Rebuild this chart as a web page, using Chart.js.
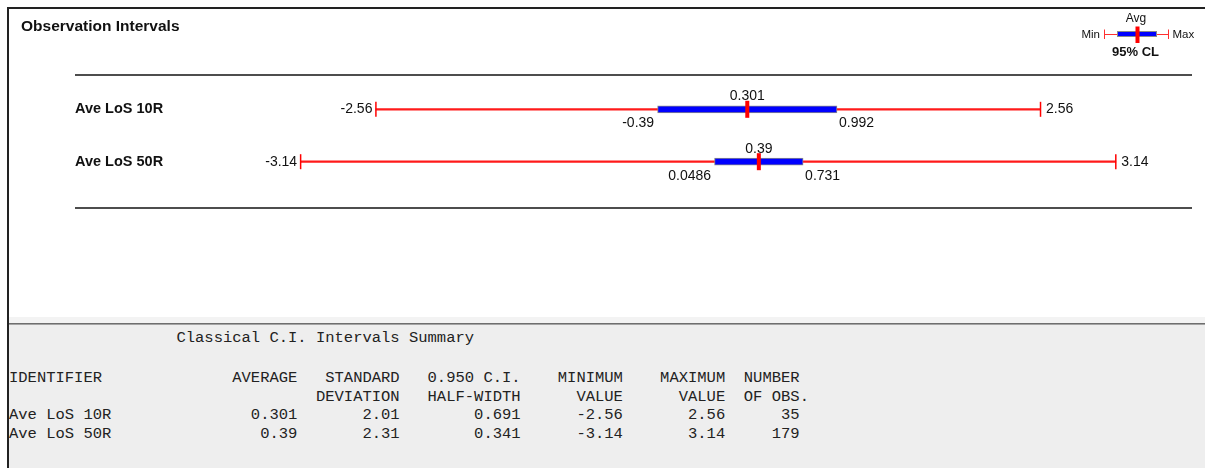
<!DOCTYPE html>
<html>
<head>
<meta charset="utf-8">
<script src="https://cdn.jsdelivr.net/npm/chart.js"></script>
<style>
  body { margin: 0; background: #fff; width: 1205px; height: 468px; overflow: hidden; position: relative; }
  #plot { position: absolute; left: 0; top: 0; width: 1205px; height: 317px; }
  .frame-top { position: absolute; left: 7px; top: 7px; width: 1198px; height: 2px; background: #222; z-index: 3; }
  .frame-left { position: absolute; left: 7px; top: 7px; width: 2px; height: 461px; background: #222; z-index: 3; }
  #panel { position: absolute; left: 9px; top: 317px; width: 1196px; height: 151px; background: #eeeeee; }
  #panel .band { position: absolute; left: 0; top: 0; width: 100%; height: 6px; background: #f3f3f3; }
  #panel .dark { position: absolute; left: 0; top: 6px; width: 100%; height: 1px; background: #6e6e6e; }
  #panel .mid { position: absolute; left: 0; top: 7px; width: 100%; height: 1px; background: #a4a4a4; }
  .mono { position: absolute; left: 9px; margin: 0; font-family: "Liberation Mono", "Courier New", monospace;
          font-size: 15.5px; line-height: 18.6px; color: #222; white-space: pre; }
  #summaryTitle { top: 329px; }
  #summaryTable { top: 369px; }
</style>
</head>
<body>
<div id="plot"><canvas id="chart"></canvas></div>
<div class="frame-top"></div>
<div class="frame-left"></div>
<div id="panel"><div class="band"></div><div class="dark"></div><div class="mid"></div></div>
<pre class="mono" id="summaryTitle"></pre>
<pre class="mono" id="summaryTable"></pre>
<script>
const categories = ["Ave LoS 10R", "Ave LoS 50R"];
const average = [0.301, 0.39];
const stdDev = [2.01, 2.31];
const halfWidth = [0.691, 0.341];
const ciLow = [-0.39, 0.0486];
const ciHigh = [0.992, 0.731];
const minValue = [-2.56, -3.14];
const maxValue = [2.56, 3.14];
const numObs = [35, 179];

const rowY = categories.map((c, i) => i + 1);
const red = "#ff0000";
const sans = '"Liberation Sans", Arial, sans-serif';

// summary table in the grey panel
document.getElementById("summaryTitle").textContent =
  " ".repeat(18) + "Classical C.I. Intervals Summary";

function line(a, b, c, d, e, f, g) {
  return a.padEnd(21) + b.padStart(10) + c.padStart(11) + d.padStart(13) +
    e.padStart(11) + f.padStart(11) + g;
}
const tableLines = [
  line("IDENTIFIER", "AVERAGE", "STANDARD", "0.950 C.I.", "MINIMUM", "MAXIMUM", "  NUMBER"),
  line("", "", "DEVIATION", "HALF-WIDTH", "VALUE", "VALUE", "  OF OBS."),
];
categories.forEach((c, i) => {
  tableLines.push(line(c, String(average[i]), String(stdDev[i]), String(halfWidth[i]),
    String(minValue[i]), String(maxValue[i]), String(numObs[i]).padStart(8)));
});
document.getElementById("summaryTable").textContent = tableLines.join("\n");

const extras = {
  id: "extras",
  beforeDatasetsDraw(chart) {
    const ctx = chart.ctx;
    const area = chart.chartArea;
    const left = chart.scales.y.left;
    ctx.save();
    ctx.fillStyle = "#4d4d4d";
    ctx.fillRect(left, area.top, area.right - left, 2);
    ctx.fillRect(left, area.bottom - 2, area.right - left, 2);
    ctx.restore();
  },
  afterDatasetsDraw(chart) {
    const ctx = chart.ctx;
    const x = chart.scales.x;
    const y = chart.scales.y;
    ctx.save();
    ctx.fillStyle = "#111";
    ctx.font = "14px " + sans;
    rowY.forEach((r, i) => {
      const py = y.getPixelForValue(r);
      ctx.textBaseline = "alphabetic";
      ctx.textAlign = "center";
      ctx.fillText(String(average[i]), x.getPixelForValue(average[i]), py - 9);
      ctx.textAlign = "right";
      ctx.fillText(String(ciLow[i]), x.getPixelForValue(ciLow[i]) - 3.5, py + 18);
      ctx.textAlign = "left";
      ctx.fillText(String(ciHigh[i]), x.getPixelForValue(ciHigh[i]) + 2, py + 18);
      ctx.textBaseline = "middle";
      ctx.textAlign = "right";
      ctx.fillText(String(minValue[i]), x.getPixelForValue(minValue[i]) - 3.5, py);
      ctx.textAlign = "left";
      ctx.fillText(String(maxValue[i]), x.getPixelForValue(maxValue[i]) + 5.5, py);
    });
    ctx.restore();
  },
  afterDraw(chart) {
    const ctx = chart.ctx;
    ctx.save();
    ctx.fillStyle = "#111";
    ctx.textBaseline = "alphabetic";
    ctx.textAlign = "left";
    ctx.font = "bold 15.5px " + sans;
    ctx.fillText("Observation Intervals", 21, 30.5);

    // key in the top right corner
    ctx.strokeStyle = "#ff3030";
    ctx.lineWidth = 1;
    ctx.beginPath();
    ctx.moveTo(1104, 34.5); ctx.lineTo(1168, 34.5);
    ctx.moveTo(1104.5, 29.5); ctx.lineTo(1104.5, 39);
    ctx.moveTo(1168.5, 29.5); ctx.lineTo(1168.5, 39);
    ctx.stroke();
    ctx.fillStyle = "#0000ff";
    ctx.fillRect(1117, 31, 40, 6);
    ctx.strokeStyle = "#8a8a8a";
    ctx.strokeRect(1117.5, 31.5, 39, 5);
    ctx.fillStyle = red;
    ctx.fillRect(1135.5, 26.5, 4, 16.5);
    ctx.fillStyle = "#111";
    ctx.font = "12px " + sans;
    ctx.textAlign = "center";
    ctx.fillText("Avg", 1136, 22);
    ctx.font = "11.5px " + sans;
    ctx.textAlign = "right";
    ctx.fillText("Min", 1100, 38);
    ctx.textAlign = "left";
    ctx.fillText("Max", 1172.5, 38);
    ctx.font = "bold 13px " + sans;
    ctx.textAlign = "center";
    ctx.fillText("95% CL", 1135.5, 56);
    ctx.restore();
  },
};

new Chart(document.getElementById("chart"), {
  type: "bar",
  data: {
    datasets: [
      {
        type: "scatter",
        label: "Avg",
        data: average.map((v, i) => ({ x: v, y: rowY[i] })),
        pointStyle: "line",
        rotation: 90,
        radius: 8.5,
        borderWidth: 4,
        borderColor: red,
        backgroundColor: red,
      },
      {
        type: "scatter",
        label: "Min / Max",
        data: minValue.map((v, i) => ({ x: v, y: rowY[i] }))
          .concat(maxValue.map((v, i) => ({ x: v, y: rowY[i] }))),
        pointStyle: "line",
        rotation: 90,
        radius: 7.5,
        borderWidth: 1.5,
        borderColor: red,
        backgroundColor: red,
      },
      {
        label: "95% CL",
        data: ciLow.map((v, i) => ({ x: [v, ciHigh[i]], y: rowY[i] })),
        backgroundColor: "#0000ff",
        borderColor: "#8a8a8a",
        borderWidth: 1,
        borderSkipped: false,
        barThickness: 7,
        grouped: false,
      },
      {
        label: "Range",
        data: minValue.map((v, i) => ({ x: [v, maxValue[i]], y: rowY[i] })),
        backgroundColor: "#ff1a1a",
        borderWidth: 0,
        barThickness: 1.5,
        grouped: false,
      },
    ],
  },
  options: {
    indexAxis: "y",
    animation: false,
    events: [],
    responsive: true,
    maintainAspectRatio: false,
    layout: {
      padding: { left: 75, right: 13, top: 74, bottom: 108 },
    },
    scales: {
      x: {
        type: "linear",
        display: false,
        offset: false,
        min: -3.53,
        max: 3.727,
      },
      y: {
        type: "linear",
        reverse: true,
        offset: false,
        min: 0.326,
        max: 2.903,
        grid: { display: false, drawTicks: false, offset: false },
        border: { display: false },
        afterBuildTicks: (scale) => {
          scale.ticks = rowY.map((v) => ({ value: v }));
        },
        afterFit: (scale) => {
          scale.width = 175;
        },
        ticks: {
          autoSkip: false,
          crossAlign: "far",
          color: "#111",
          font: { family: sans, size: 14.5, weight: "bold" },
          callback: (v) => categories[v - 1],
        },
      },
    },
    plugins: {
      legend: { display: false },
      tooltip: { enabled: false },
    },
  },
  plugins: [extras],
});
</script>
</body>
</html>
